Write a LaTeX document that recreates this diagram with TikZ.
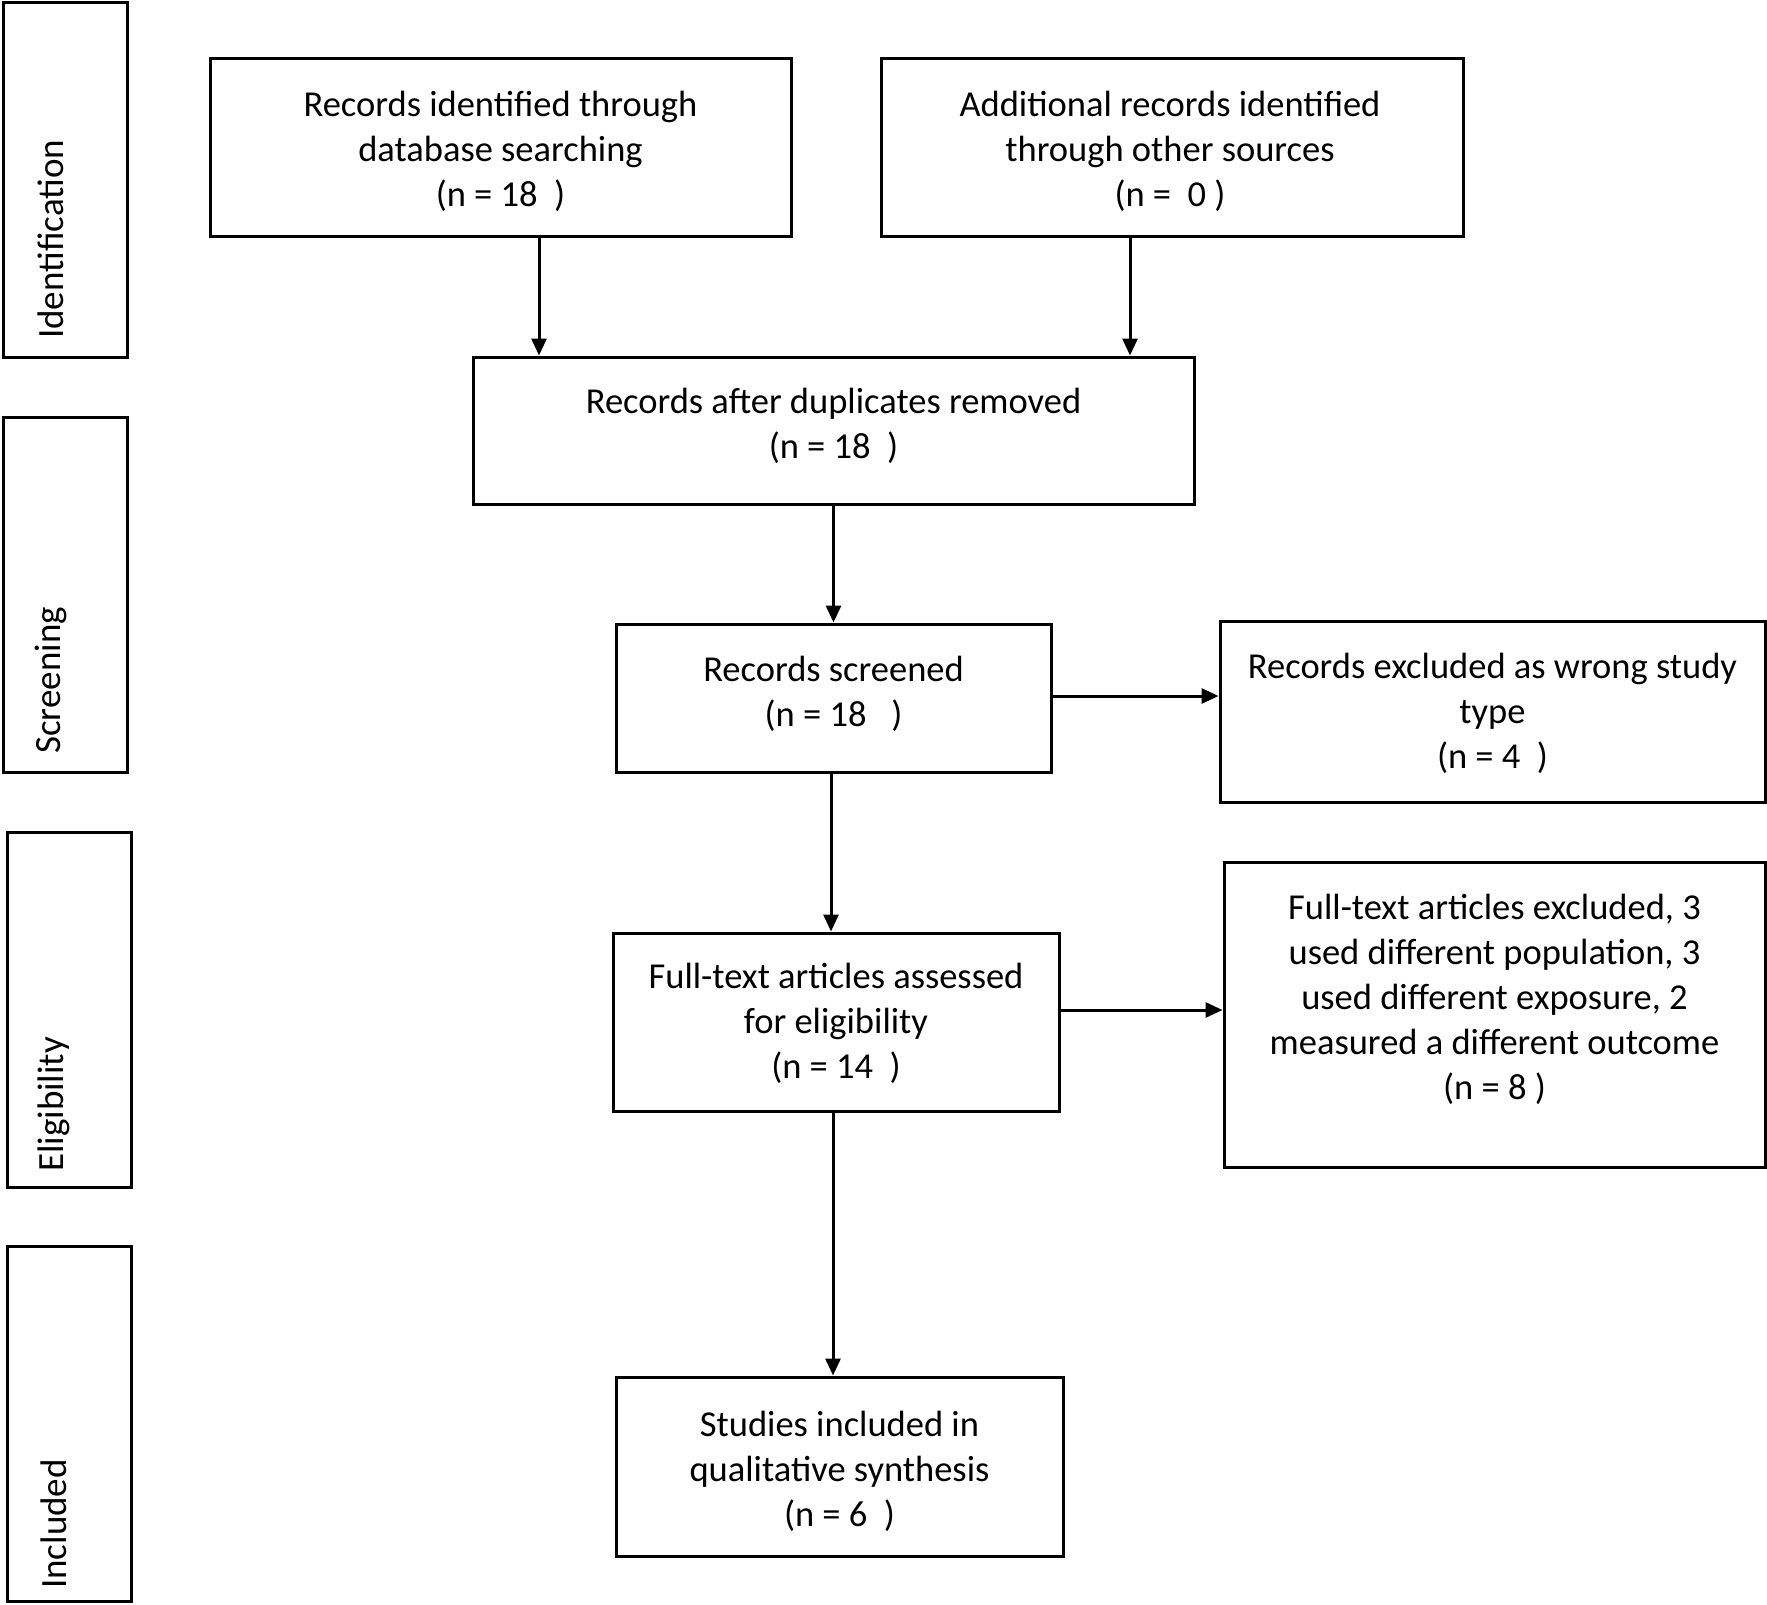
\documentclass[tikz,border=0pt]{standalone}
\usepackage{fontspec}
\setmainfont{Carlito}
\usetikzlibrary{arrows.meta}
\tikzset{
  box/.style={draw=black, line width=3pt, fill=white, align=center, inner sep=0pt,
    font=\fontsize{36.5}{45}\selectfont},
  side/.style={draw=black, line width=3pt, inner sep=0pt},
  sidelabel/.style={rotate=90, anchor=west, inner sep=0pt, font=\fontsize{37}{45}\selectfont},
  arr/.style={line width=3pt, -{Triangle[length=17pt,width=15pt]}}
}
\begin{document}
\begin{tikzpicture}[x=1pt,y=-1pt]
\useasboundingbox[fill=white] (0,0) rectangle (1767,1605);
% side bars
\node[side, minimum width=124pt, minimum height=355pt] (sid) at (65,180) {};
\node[side, minimum width=124pt, minimum height=355pt] (sscr) at (65,594.5) {};
\node[side, minimum width=124pt, minimum height=355pt] (selig) at (69,1009.5) {};
\node[side, minimum width=124pt, minimum height=355pt] (sincl) at (69,1423.5) {};
\node[sidelabel] (lid) at (51,339) {Identification};
\node[sidelabel] (lscr) at (51,754) {Screening};
\node[sidelabel] (lelig) at (54,1172) {Eligibility};
\node[sidelabel] (lincl) at (54,1589) {Included};
% main boxes
\node[box, minimum width=581pt, minimum height=178pt] (rec) at (500.5,148) {};
\node[box, minimum width=582pt, minimum height=178pt] (add) at (1172,148) {};
\node[box, minimum width=721pt, minimum height=147pt] (dup) at (833.5,430.5) {};
\node[box, minimum width=435pt, minimum height=148pt] (scr) at (833.5,698) {};
\node[box, minimum width=545pt, minimum height=181pt] (exc1) at (1492.5,711.5) {};
\node[box, minimum width=446pt, minimum height=178pt] (ft) at (836,1022) {};
\node[box, minimum width=541pt, minimum height=305pt] (exc2) at (1494.5,1014.5) {};
\node[box, minimum width=447pt, minimum height=179pt] (inc) at (839.5,1466.5) {};
\tikzset{txt/.style={align=center, inner sep=0pt, font=\fontsize{36.5}{45}\selectfont}}
\node[txt] (rect) at (500.5,151) {Records identified through\\database searching\\(n = 18\ \ )};
\node[txt] (addt) at (1170,151) {Additional records identified\\through other sources\\(n = \ 0 )};
\node[txt] (dupt) at (833.5,425.5) {Records after duplicates removed\\(n = 18\ \ )};
\node[txt] (scrt) at (833.5,693.5) {Records screened\\(n = 18\ \ \ )};
\node[txt] (exc1t) at (1492.5,713) {Records excluded as wrong study\\type\\(n = 4\ \ )};
\node[txt] (ftt) at (836,1023.5) {Full-text articles assessed\\for eligibility\\(n = 14\ \ )};
\node[txt] (exc2t) at (1494.5,999.5) {Full-text articles excluded, 3\\used different population, 3\\used different exposure, 2\\measured a different outcome\\(n = 8 )};
\node[txt] (inct) at (839.5,1471.5) {Studies included in\\qualitative synthesis\\(n = 6\ \ )};
% connectors
\draw[arr] ([xshift=38.5]rec.south) -- ([xshift=-294.5]dup.north);
\draw[arr] ([xshift=-42]add.south) -- ([xshift=296.5]dup.north);
\draw[arr] (dup.south) -- (scr.north);
\draw[arr] ([yshift=2]scr.east) -- ([yshift=2]scr.east -| exc1.west);
\draw[arr] ([xshift=-2.5]scr.south) -- ([xshift=-2.5]scr.south |- ft.north);
\draw[arr] ([yshift=12]ft.east) -- ([yshift=12]ft.east -| exc2.west);
\draw[arr] ([xshift=-3]ft.south) -- ([xshift=-3]ft.south |- inc.north);
\end{tikzpicture}
\end{document}
